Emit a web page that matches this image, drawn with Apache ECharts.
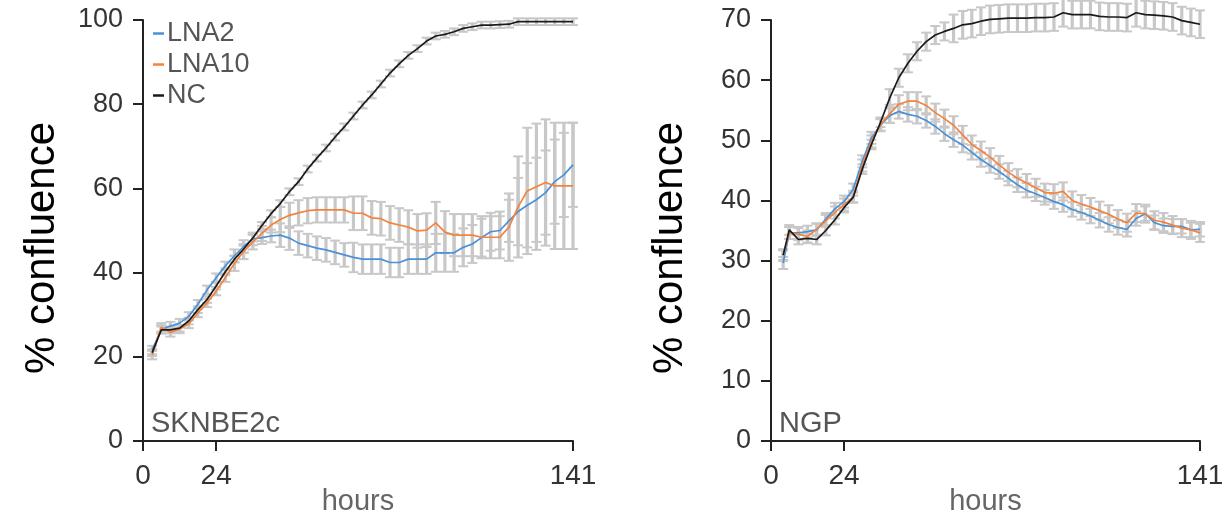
<!DOCTYPE html>
<html>
<head>
<meta charset="utf-8">
<script src="https://cdn.jsdelivr.net/npm/echarts@6/dist/echarts.min.js"></script>
<style>
html,body{margin:0;padding:0;background:#fff;}
#chart{width:1223px;height:519px;}
</style>
</head>
<body>
<div id="chart"></div>
<script>
const seriesNames = ['LNA2', 'LNA10', 'NC'];
const xTicks = [0, 24, 141];

const leftHours = [3,6,9,12,15,18,21,24,27,30,33,36,39,42,45,48,51,54,57,60,63,66,69,72,75,78,81,84,87,90,93,96,99,102,105,108,111,114,117,120,123,126,129,132,135,138,141];
const leftNC = [21.0,26.4,26.4,26.8,28.5,31.2,33.6,36.8,40.2,43.2,45.6,48.2,51.2,54.0,56.4,59.2,61.6,64.6,67.2,69.6,72.2,74.6,77.2,79.8,82.2,84.8,87.4,89.6,91.6,93.2,95.0,96.2,96.6,97.2,98.0,98.4,98.8,98.8,98.9,99.0,99.6,99.6,99.6,99.6,99.6,99.6,99.6];
const leftLNA2 = [21.6,26.5,27.3,28.0,29.6,32.5,35.9,38.8,41.6,44.0,46.2,48.0,48.3,48.7,48.9,48.2,47.0,46.4,45.8,45.4,44.8,44.2,43.6,43.2,43.2,43.2,42.4,42.4,43.2,43.2,43.2,44.7,44.7,44.7,46.0,46.8,48.3,49.7,50.0,52.3,54.5,56.0,57.3,59.0,61.6,63.2,65.6];
const leftLNA10 = [20.4,27.0,25.8,26.6,27.8,30.4,32.8,35.6,38.8,42.2,45.0,47.3,49.3,51.3,52.6,53.6,54.2,54.7,54.9,54.9,54.9,54.9,54.1,54.1,53.0,52.8,51.8,51.3,50.8,49.9,50.1,51.8,49.6,48.9,48.9,48.9,48.4,48.4,48.4,50.8,55.6,59.4,60.4,61.4,60.6,60.6,60.6];
const leftNCErr = [0.8,0.8,0.8,0.8,0.8,0.8,0.8,0.8,0.8,0.8,0.8,0.8,0.8,0.8,0.8,0.8,0.8,0.8,0.8,0.8,0.8,0.8,0.8,0.8,0.8,0.8,0.8,0.8,0.8,0.8,0.8,0.8,0.8,0.8,0.8,0.8,0.8,0.8,0.8,0.8,0.8,0.8,0.8,0.8,0.8,0.8,0.8];
const leftLNA2Err = [1.0,1.0,1.0,1.0,1.0,1.0,1.0,1.0,1.0,1.5,1.5,1.5,1.5,1.5,2.8,2.8,2.8,2.8,2.8,2.8,2.8,2.8,3.5,3.5,3.5,3.5,3.5,3.5,3.5,3.5,3.5,4.5,4.5,4.5,4.5,4.5,4.5,4.5,4.5,5,8,10,10,10,10,10,10];
const leftLNA10Err = [1.0,1.0,1.0,1.0,1.0,1.0,1.0,1.0,1.0,1.8,1.8,1.8,1.8,1.8,3.0,3.0,3.0,3.0,3.0,3.0,3.0,3.0,4.0,4.0,4.0,4.0,4.0,4.0,4.0,4.0,4.0,5.0,5.0,5.0,5.0,5.0,5.0,5.0,5.0,8,12,15,15,15,15,15,15];

const rightHours = [4,6,9,12,15,18,21,24,27,30,33,36,39,42,45,48,51,54,57,60,63,66,69,72,75,78,81,84,87,90,93,96,99,102,105,108,111,114,117,120,123,126,129,132,135,138,141];
const rightNC = [30.9,35.1,33.5,33.7,33.5,35.0,36.8,38.8,40.5,45.2,49.3,53.0,57.0,60.4,62.8,64.8,66.4,67.5,68.1,68.6,69.2,69.4,69.8,70.1,70.2,70.3,70.3,70.3,70.4,70.4,70.5,71.2,70.9,70.9,70.9,70.6,70.5,70.5,70.4,71.2,70.9,70.8,70.7,70.5,69.9,69.6,69.3];
const rightLNA2 = [29.6,34.6,34.6,34.8,35.1,36.9,38.6,39.8,41.8,46.5,50.4,52.5,54.1,54.8,54.3,54.0,53.3,52.3,51.1,50.1,49.2,48.0,46.8,45.8,44.8,43.7,42.6,41.7,41.1,40.5,39.8,39.3,38.5,38.0,37.4,36.7,36.0,35.5,35.2,37.0,37.8,36.3,35.8,35.7,35.7,35.1,35.2];
const rightLNA10 = [30.9,34.6,34.4,34.0,35.2,36.6,38.0,39.3,40.6,45.8,49.8,52.6,54.4,56.0,56.5,56.5,55.8,54.6,53.6,52.5,50.9,49.3,48.3,47.2,45.9,44.7,43.7,42.9,42.1,41.3,41.2,41.5,40.0,39.4,38.9,38.3,37.7,36.9,36.3,37.9,37.8,36.7,36.4,35.9,35.4,35.1,34.6];
const rightNCErr = [0.8,0.8,0.8,0.8,0.8,0.8,0.8,0.8,0.8,0.8,0.8,0.8,1.5,1.5,1.5,1.5,1.5,1.5,1.5,2.3,2.3,2.3,2.3,2.3,2.3,2.3,2.3,2.3,2.3,2.3,2.3,2.3,2.3,2.3,2.3,2.3,2.3,2.3,2.3,2.3,2.3,2.3,2.3,2.3,2.3,2.3,2.3];
const rightLNA2Err = [1.0,1.0,1.0,1.0,1.0,1.0,1.0,1.0,1.0,1.0,1.0,1.0,1.2,1.2,1.2,1.2,1.2,1.2,1.2,1.2,1.2,1.2,1.2,1.2,1.2,1.2,1.2,1.2,1.2,1.2,1.2,1.2,1.2,1.2,1.2,1.2,1.2,1.2,1.2,1.2,1.2,1.2,1.2,1.2,1.2,1.2,1.2];
const rightLNA10Err = [1.0,1.0,1.0,1.0,1.0,1.0,1.0,1.0,1.0,1.0,1.0,1.0,1.5,1.5,1.5,1.5,1.5,1.5,1.5,1.5,1.5,1.5,1.5,1.5,1.5,1.5,1.5,1.5,1.5,1.5,1.5,1.5,1.5,1.5,1.5,1.5,1.5,1.5,1.5,1.5,1.5,1.5,1.5,1.5,1.5,1.5,1.5];

const colors = {LNA2: '#4a92d8', LNA10: '#f5823c', NC: '#1a1a1a'};
const FONT = '"Liberation Sans", Arial, Helvetica, sans-serif';

function pairs(h, v) { return h.map((x, i) => [x, v[i]]); }
function triples(h, v, e) { return h.map((x, i) => [x, v[i], e[i]]); }

function errSeries(idx, h, v, e) {
  return {
    type: 'custom', xAxisIndex: idx, yAxisIndex: idx, silent: true, z: 1,
    clip: false,
    data: triples(h, v, e),
    renderItem: function (params, api) {
      const x = api.value(0), y = api.value(1), er = api.value(2);
      const hi = api.coord([x, y + er]);
      const lo = api.coord([x, y - er]);
      const cw = 5;
      const st = {stroke: '#c8c8c8', lineWidth: 3.2};
      const cs = {stroke: '#c8c8c8', lineWidth: 2};
      return {type: 'group', children: [
        {type: 'line', shape: {x1: hi[0], y1: hi[1], x2: lo[0], y2: lo[1]}, style: st},
        {type: 'line', shape: {x1: hi[0] - cw, y1: hi[1], x2: hi[0] + cw, y2: hi[1]}, style: cs},
        {type: 'line', shape: {x1: lo[0] - cw, y1: lo[1], x2: lo[0] + cw, y2: lo[1]}, style: cs}
      ]};
    }
  };
}
function lineSeries(idx, name, h, v) {
  return {
    type: 'line', name: name, xAxisIndex: idx, yAxisIndex: idx, z: 3,
    data: pairs(h, v), showSymbol: false, clip: false, animation: false,
    lineStyle: {color: colors[name], width: 1.7}, itemStyle: {color: colors[name]}
  };
}

function xAxisCfg(idx) {
  return {
    type: 'value', gridIndex: idx, min: 0, max: 141,
    name: 'hours', nameLocation: 'middle', nameGap: 46, nameMoveOverlap: false,
    nameTextStyle: {fontSize: 29, color: '#666', fontFamily: FONT},
    splitLine: {show: false},
    axisLine: {lineStyle: {color: '#222', width: 2}},
    axisTick: {show: true, length: 10, lineStyle: {color: '#222', width: 2}, customValues: xTicks},
    axisLabel: {fontSize: 28, color: '#333', fontFamily: FONT, margin: 21, customValues: xTicks}
  };
}
function yAxisCfg(idx, max, interval) {
  return {
    type: 'value', gridIndex: idx, min: 0, max: max, interval: interval,
    splitLine: {show: false},
    axisLine: {show: true, lineStyle: {color: '#222', width: 2}},
    axisTick: {show: true, length: 10, lineStyle: {color: '#222', width: 2}},
    axisLabel: {fontSize: 27, color: '#333', fontFamily: FONT, margin: 20}
  };
}

const chart = echarts.init(document.getElementById('chart'), null, {renderer: 'canvas'});
chart.setOption({
  animation: false,
  backgroundColor: '#fff',
  grid: [
    {left: 143, right: 650, top: 20, bottom: 78, containLabel: false, outerBoundsMode: 'none'},
    {left: 771, right: 23, top: 20, bottom: 78, containLabel: false, outerBoundsMode: 'none'}
  ],
  xAxis: [xAxisCfg(0), xAxisCfg(1)],
  yAxis: [yAxisCfg(0, 100, 20), yAxisCfg(1, 70, 10)],
  legend: {
    data: seriesNames, orient: 'vertical', left: 148, top: 15,
    icon: 'rect', itemWidth: 11, itemHeight: 2.5, itemGap: 4,
    textStyle: {fontSize: 27, color: '#555', fontFamily: FONT, padding: [0, 0, 0, -2]}
  },
  graphic: [
    {type: 'text', x: 42, y: 248, rotation: Math.PI / 2,
      style: {text: '% confluence', font: '42px ' + FONT, fill: '#000', align: 'center', verticalAlign: 'middle'}},
    {type: 'text', x: 670, y: 248, rotation: Math.PI / 2,
      style: {text: '% confluence', font: '42px ' + FONT, fill: '#000', align: 'center', verticalAlign: 'middle'}},
    {type: 'text', x: 151, y: 424,
      style: {text: 'SKNBE2c', font: '29px ' + FONT, fill: '#555', align: 'left', verticalAlign: 'middle'}},
    {type: 'text', x: 779, y: 424,
      style: {text: 'NGP', font: '29px ' + FONT, fill: '#555', align: 'left', verticalAlign: 'middle'}}
  ],
  series: [
    errSeries(0, leftHours, leftLNA2, leftLNA2Err),
    errSeries(0, leftHours, leftLNA10, leftLNA10Err),
    errSeries(0, leftHours, leftNC, leftNCErr),
    lineSeries(0, 'LNA2', leftHours, leftLNA2),
    lineSeries(0, 'LNA10', leftHours, leftLNA10),
    lineSeries(0, 'NC', leftHours, leftNC),
    errSeries(1, rightHours, rightLNA2, rightLNA2Err),
    errSeries(1, rightHours, rightLNA10, rightLNA10Err),
    errSeries(1, rightHours, rightNC, rightNCErr),
    lineSeries(1, 'LNA2', rightHours, rightLNA2),
    lineSeries(1, 'LNA10', rightHours, rightLNA10),
    lineSeries(1, 'NC', rightHours, rightNC)
  ]
});
</script>
</body>
</html>
